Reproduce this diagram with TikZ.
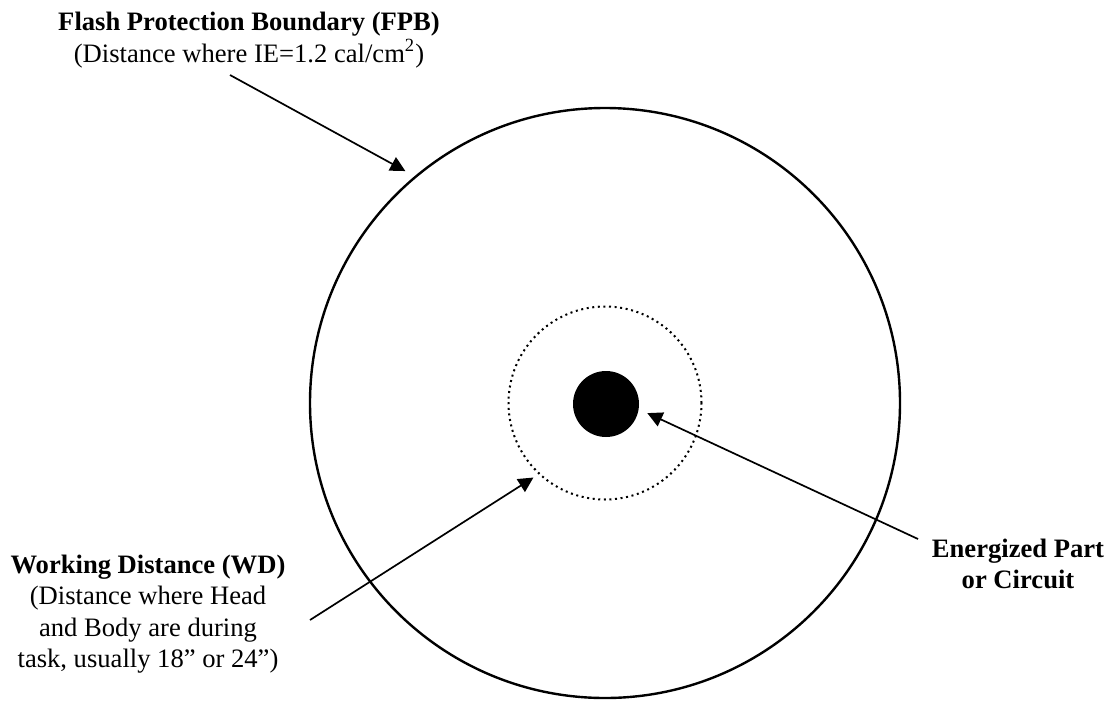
\documentclass[tikz,border=0pt]{standalone}
\usepackage{fontspec}
\setmainfont{Liberation Serif}
\usetikzlibrary{arrows.meta}

\begin{document}
\begin{tikzpicture}[
x=0.5pt, y=-0.5pt,
ring/.style={circle, draw, line width=1.2pt, inner sep=0pt},
lbl/.style={align=center, inner sep=0pt, font=\fontsize{13.3}{15.75}\selectfont},
arrow/.style={-{Triangle[length=7.5pt,width=7.5pt]}, line width=0.85pt}
]
\useasboundingbox (0,0) rectangle (1113,702);

% boundaries
\node[ring, minimum size=295pt] (fpb) at (605,403) {};
\node[ring, line width=1pt, dash pattern=on 1pt off 1.8pt, minimum size=96.5pt] (wd) at (605,403) {};
\node[circle, fill, inner sep=0pt, minimum size=33pt] (part) at (606,404) {};

% labels
\node[lbl] (fpblabel) at (249,40) {\textbf{Flash Protection Boundary (FPB)}\\(Distance where IE=1.2 cal/cm\textsuperscript{2})};
\node[lbl] (wdlabel) at (148,614) {\textbf{Working Distance (WD)}\\(Distance where Head\\and Body are during\\task, usually 18” or 24”)};
\node[lbl] (partlabel) at (1018,564) {\textbf{Energized Part}\\\textbf{or Circuit}};

\coordinate (fpbfrom) at (230,75);
\coordinate (wdfrom) at (310,620);
\coordinate (partfrom) at (918,539);

\draw[arrow, shorten >=5.25pt] (fpbfrom) -- (fpb.130);
\draw[arrow, shorten >=3pt] (wdfrom) -- (wd.227);
\draw[arrow, shorten >=4.6pt] (partfrom) -- (part.351);

\end{tikzpicture}
\end{document}
